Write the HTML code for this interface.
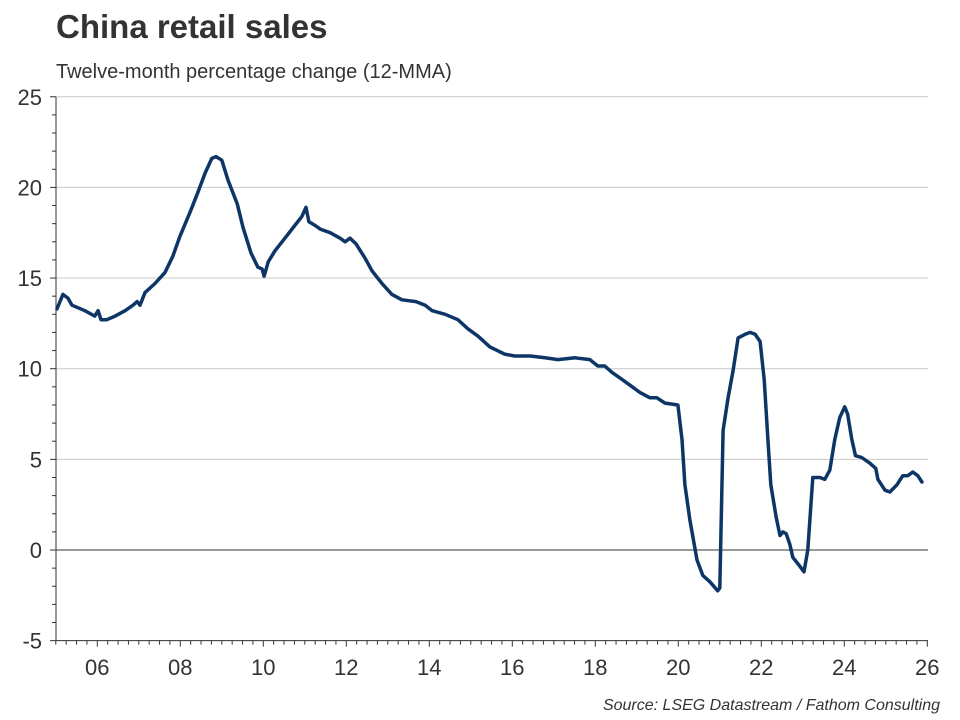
<!DOCTYPE html>
<html><head><meta charset="utf-8"><style>
body{margin:0;background:#fff;font-family:"Liberation Sans",Arial,sans-serif;}
svg{display:block}
</style></head><body>
<svg id="c" width="960" height="720" xmlns="http://www.w3.org/2000/svg">
<text x="56" y="38" font-size="33" font-weight="bold" fill="#333">China retail sales</text>
<text x="56" y="78" font-size="20" fill="#333">Twelve-month percentage change (12-MMA)</text>
<text x="940" y="710" font-size="16" font-style="italic" fill="#333" text-anchor="end">Source: LSEG Datastream / Fathom Consulting</text>
<g id="grid"></g><g id="axes"></g><g id="series"></g>
</svg>
<script>
const dates=[2005.03,2005.17,2005.29,2005.39,2005.70,2005.94,2006.02,2006.09,2006.23,2006.43,2006.67,2006.86,2006.96,2007.03,2007.15,2007.39,2007.63,2007.82,2007.99,2008.23,2008.42,2008.60,2008.76,2008.86,2009.00,2009.15,2009.37,2009.51,2009.70,2009.87,2009.97,2010.02,2010.12,2010.28,2010.52,2010.76,2010.93,2011.03,2011.10,2011.25,2011.37,2011.61,2011.85,2011.97,2012.09,2012.23,2012.45,2012.62,2012.86,2013.10,2013.34,2013.68,2013.90,2014.07,2014.38,2014.69,2014.93,2015.17,2015.46,2015.82,2016.06,2016.43,2016.79,2017.10,2017.51,2017.87,2018.06,2018.23,2018.40,2018.71,2019.07,2019.31,2019.48,2019.68,2019.99,2020.09,2020.16,2020.28,2020.45,2020.59,2020.76,2020.95,2021.00,2021.08,2021.20,2021.32,2021.44,2021.61,2021.73,2021.85,2021.97,2022.07,2022.16,2022.23,2022.36,2022.45,2022.52,2022.60,2022.69,2022.76,2022.93,2023.03,2023.12,2023.24,2023.41,2023.53,2023.65,2023.77,2023.89,2024.01,2024.08,2024.18,2024.27,2024.42,2024.61,2024.76,2024.81,2024.98,2025.10,2025.27,2025.41,2025.53,2025.65,2025.77,2025.87];
const values=[13.3,14.1,13.9,13.5,13.2,12.9,13.2,12.7,12.7,12.9,13.2,13.5,13.7,13.5,14.2,14.7,15.3,16.2,17.3,18.6,19.7,20.8,21.6,21.7,21.5,20.4,19.1,17.8,16.4,15.6,15.5,15.1,15.9,16.5,17.2,17.9,18.4,18.9,18.1,17.9,17.7,17.5,17.2,17.0,17.2,16.9,16.1,15.4,14.7,14.1,13.8,13.7,13.5,13.2,13.0,12.7,12.2,11.8,11.2,10.8,10.7,10.7,10.6,10.5,10.6,10.5,10.15,10.15,9.8,9.3,8.7,8.4,8.4,8.1,8.0,6.1,3.6,1.65,-0.55,-1.4,-1.75,-2.25,-2.1,6.6,8.4,9.9,11.7,11.9,12.0,11.9,11.5,9.4,6.1,3.6,1.8,0.8,1.0,0.9,0.3,-0.4,-0.9,-1.2,0,4.0,4.0,3.9,4.4,6.1,7.3,7.9,7.5,6.1,5.2,5.1,4.8,4.5,3.9,3.3,3.2,3.6,4.1,4.1,4.3,4.1,3.75];
const yTicks=[-5,0,5,10,15,20,25];
const xTickLabels=["06","08","10","12","14","16","18","20","22","24","26"];
const xTickYears=[2006,2008,2010,2012,2014,2016,2018,2020,2022,2024,2026];
const NS="http://www.w3.org/2000/svg";
const X0=55.8,PX=41.5,Y0=550,PY=18.13,L=56,R=928;
const xs=t=>X0+(t-2005)*PX, ys=v=>Y0-v*PY;
function mk(tag,attrs,parent){const e=document.createElementNS(NS,tag);for(const k in attrs)e.setAttribute(k,attrs[k]);parent.appendChild(e);return e;}
const grid=document.getElementById('grid'),axes=document.getElementById('axes'),ser=document.getElementById('series');
yTicks.forEach(v=>{
  if(v!==-5&&v!==0){const g=mk('line',{x1:L,x2:R,y1:ys(v),y2:ys(v),stroke:'#c8c8c8','stroke-width':1},grid);
  
  }
  const t=mk('text',{x:42,y:ys(v)+8,'font-size':22,fill:'#333','text-anchor':'end'},axes);t.textContent=v;
  
  
});
for(let v=-5;v<=25;v++){const m=mk('line',{x1:L-(v%5===0?6:4),x2:L,y1:ys(v),y2:ys(v),stroke:'#333','stroke-width':1},axes);
  
  }
const zl=mk('line',{x1:L,x2:R,y1:ys(0),y2:ys(0),stroke:'#333','stroke-width':1},axes);


const ya=mk('line',{x1:L,x2:L,y1:ys(25),y2:ys(-5),stroke:'#333','stroke-width':1},axes);


const xa=mk('line',{x1:L,x2:R,y1:ys(-5),y2:ys(-5),stroke:'#333','stroke-width':1},axes);


for(let q=2005;q<=2026.01;q+=0.25){const maj=Math.abs(q-Math.round(q))<0.01&&Math.round(q)%2===0;
  const m=mk('line',{x1:xs(q),x2:xs(q),y1:ys(-5),y2:ys(-5)+(maj?6:4),stroke:'#333','stroke-width':1},axes);
  
  }
xTickLabels.forEach((s,i)=>{const t=mk('text',{x:xs(xTickYears[i]),y:675,'font-size':22,fill:'#333','text-anchor':'middle'},axes);t.textContent=s;
  
  });
const p=mk('path',{d:dates.map((d,i)=>(i?'L':'M')+xs(d).toFixed(1)+','+ys(values[i]).toFixed(1)).join(''),fill:'none',stroke:'#0d3566','stroke-width':3.5,'stroke-linejoin':'round','stroke-linecap':'round'},ser);


</script>
</body></html>
